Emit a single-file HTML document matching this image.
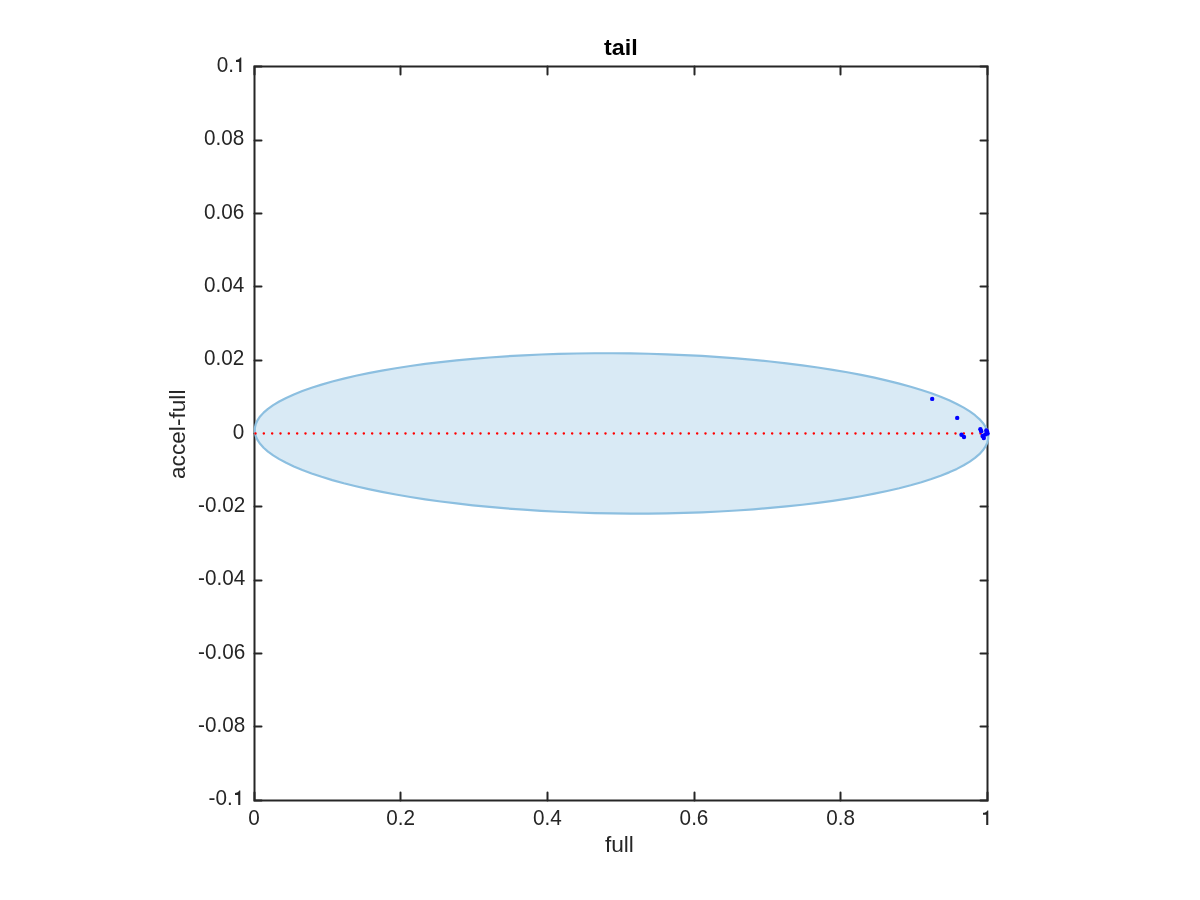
<!DOCTYPE html><html><head><meta charset="utf-8"><style>html,body{margin:0;padding:0;background:#fff;width:1200px;height:900px;overflow:hidden}svg{display:block;will-change:transform}text{font-family:"Liberation Sans",sans-serif}</style></head><body>
<svg width="1200" height="900" viewBox="0 0 1200 900">
<rect width="1200" height="900" fill="#fff"/>
<path d="M254.5,66.5H987.5V800.5H254.5Z" fill="none" stroke="#262626" stroke-width="2"/>
<path d="M254.50,800.5v-8.0M254.50,66.5v8.0M400.50,800.5v-8.0M400.50,66.5v8.0M547.50,800.5v-8.0M547.50,66.5v8.0M694.50,800.5v-8.0M694.50,66.5v8.0M840.50,800.5v-8.0M840.50,66.5v8.0M987.50,800.5v-8.0M987.50,66.5v8.0M254.5,800.50h7.0M987.5,800.50h-7.0M254.5,726.50h7.0M987.5,726.50h-7.0M254.5,653.50h7.0M987.5,653.50h-7.0M254.5,580.50h7.0M987.5,580.50h-7.0M254.5,506.50h7.0M987.5,506.50h-7.0M254.5,433.50h7.0M987.5,433.50h-7.0M254.5,360.50h7.0M987.5,360.50h-7.0M254.5,286.50h7.0M987.5,286.50h-7.0M254.5,213.50h7.0M987.5,213.50h-7.0M254.5,140.50h7.0M987.5,140.50h-7.0M254.5,66.50h7.0M987.5,66.50h-7.0" fill="none" stroke="#262626" stroke-width="2" stroke-linecap="round"/>
<polygon points="988.19,438.66 987.31,442.58 985.54,446.48 982.90,450.35 979.39,454.17 975.01,457.94 969.79,461.66 963.72,465.31 956.83,468.88 949.13,472.36 940.65,475.75 931.39,479.04 921.39,482.22 910.67,485.28 899.24,488.22 887.15,491.02 874.42,493.69 861.08,496.21 847.17,498.58 832.71,500.79 817.74,502.84 802.30,504.72 786.42,506.43 770.14,507.97 753.51,509.32 736.56,510.49 719.33,511.48 701.87,512.28 684.21,512.88 666.40,513.30 648.48,513.53 630.50,513.56 612.50,513.39 594.52,513.04 576.60,512.49 558.79,511.76 541.13,510.83 523.67,509.72 506.44,508.42 489.49,506.95 472.86,505.29 456.58,503.46 440.70,501.47 425.26,499.31 410.29,496.99 395.83,494.52 381.92,491.90 368.58,489.14 355.85,486.24 343.76,483.22 332.33,480.08 321.61,476.82 311.61,473.47 302.35,470.01 293.87,466.47 286.17,462.84 279.28,459.15 273.21,455.39 267.99,451.58 263.61,447.73 260.10,443.84 257.46,439.93 255.69,436.00 254.81,432.07 254.81,428.14 255.69,424.22 257.46,420.32 260.10,416.45 263.61,412.63 267.99,408.86 273.21,405.14 279.28,401.49 286.17,397.92 293.87,394.44 302.35,391.05 311.61,387.76 321.61,384.58 332.33,381.52 343.76,378.58 355.85,375.78 368.58,373.11 381.92,370.59 395.83,368.22 410.29,366.01 425.26,363.96 440.70,362.08 456.58,360.37 472.86,358.83 489.49,357.48 506.44,356.31 523.67,355.32 541.13,354.52 558.79,353.92 576.60,353.50 594.52,353.27 612.50,353.24 630.50,353.41 648.48,353.76 666.40,354.31 684.21,355.04 701.87,355.97 719.33,357.08 736.56,358.38 753.51,359.85 770.14,361.51 786.42,363.34 802.30,365.33 817.74,367.49 832.71,369.81 847.17,372.28 861.08,374.90 874.42,377.66 887.15,380.56 899.24,383.58 910.67,386.72 921.39,389.98 931.39,393.33 940.65,396.79 949.13,400.33 956.83,403.96 963.72,407.65 969.79,411.41 975.01,415.22 979.39,419.07 982.90,422.96 985.54,426.87 987.31,430.80 988.19,434.73" fill="#d9eaf5" stroke="#8cbfe0" stroke-width="2.2" stroke-linejoin="round"/>
<path d="M255.4,433.5H987.5" stroke="#ff0000" stroke-width="2.3" stroke-linecap="round" stroke-dasharray="0.2 8.1333"/>
<circle cx="932.2" cy="398.9" r="2.2" fill="#0000ff"/>
<circle cx="957.2" cy="417.9" r="2.2" fill="#0000ff"/>
<circle cx="961.5" cy="434.7" r="2.2" fill="#0000ff"/>
<circle cx="964.0" cy="437.0" r="2.2" fill="#0000ff"/>
<circle cx="980.4" cy="429.3" r="2.2" fill="#0000ff"/>
<circle cx="981.2" cy="431.2" r="2.2" fill="#0000ff"/>
<circle cx="982.6" cy="436.0" r="2.2" fill="#0000ff"/>
<circle cx="983.8" cy="438.0" r="2.2" fill="#0000ff"/>
<circle cx="986.3" cy="430.4" r="2.2" fill="#0000ff"/>
<circle cx="987.6" cy="433.6" r="2.2" fill="#0000ff"/>
<circle cx="985.2" cy="434.5" r="2.2" fill="#0000ff"/>
<circle cx="987.0" cy="431.5" r="2.2" fill="#0000ff"/>
<text transform="translate(232.70,805.35) scale(1,1.07)" font-size="20.7" fill="#262626" text-anchor="end">-0.</text>
<path d="M240.30,805.10L240.30,790.50L239.30,790.50Q238.60,792.50 236.30,792.80L235.00,792.90L235.00,794.90L238.20,794.90L238.20,805.10Z" fill="#262626"/>
<text transform="translate(245.20,732.35) scale(1,1.07)" font-size="20.7" fill="#262626" text-anchor="end">-0.08</text>
<text transform="translate(245.20,659.35) scale(1,1.07)" font-size="20.7" fill="#262626" text-anchor="end">-0.06</text>
<text transform="translate(245.20,585.35) scale(1,1.07)" font-size="20.7" fill="#262626" text-anchor="end">-0.04</text>
<text transform="translate(245.20,512.35) scale(1,1.07)" font-size="20.7" fill="#262626" text-anchor="end">-0.02</text>
<text transform="translate(244.20,439.35) scale(1,1.07)" font-size="20.7" fill="#262626" text-anchor="end">0</text>
<text transform="translate(244.20,365.35) scale(1,1.07)" font-size="20.7" fill="#262626" text-anchor="end">0.02</text>
<text transform="translate(244.20,292.35) scale(1,1.07)" font-size="20.7" fill="#262626" text-anchor="end">0.04</text>
<text transform="translate(244.20,219.35) scale(1,1.07)" font-size="20.7" fill="#262626" text-anchor="end">0.06</text>
<text transform="translate(244.20,145.35) scale(1,1.07)" font-size="20.7" fill="#262626" text-anchor="end">0.08</text>
<text transform="translate(234.00,72.35) scale(1,1.07)" font-size="20.7" fill="#262626" text-anchor="end">0.</text>
<path d="M241.30,72.10L241.30,57.50L240.30,57.50Q239.60,59.50 237.30,59.80L236.00,59.90L236.00,61.90L239.20,61.90L239.20,72.10Z" fill="#262626"/>
<text transform="translate(254.00,825.3) scale(1,1.07)" font-size="20.7" fill="#262626" text-anchor="middle">0</text>
<text transform="translate(400.67,825.3) scale(1,1.07)" font-size="20.7" fill="#262626" text-anchor="middle">0.2</text>
<text transform="translate(547.33,825.3) scale(1,1.07)" font-size="20.7" fill="#262626" text-anchor="middle">0.4</text>
<text transform="translate(694.00,825.3) scale(1,1.07)" font-size="20.7" fill="#262626" text-anchor="middle">0.6</text>
<text transform="translate(840.67,825.3) scale(1,1.07)" font-size="20.7" fill="#262626" text-anchor="middle">0.8</text>
<path d="M988.30,825.00L988.30,810.40L987.30,810.40Q986.60,812.40 984.30,812.70L983.00,812.80L983.00,814.80L986.20,814.80L986.20,825.00Z" fill="#262626"/>
<text transform="translate(620.9,55) scale(1.04,1)" font-size="22.4" font-weight="bold" fill="#000" text-anchor="middle">tail</text>
<text x="619.4" y="852" font-size="22.7" fill="#262626" text-anchor="middle">full</text>
<text transform="translate(185,434.3) rotate(-90)" x="0" y="0" font-size="22.7" fill="#262626" text-anchor="middle">accel-full</text>
</svg></body></html>
